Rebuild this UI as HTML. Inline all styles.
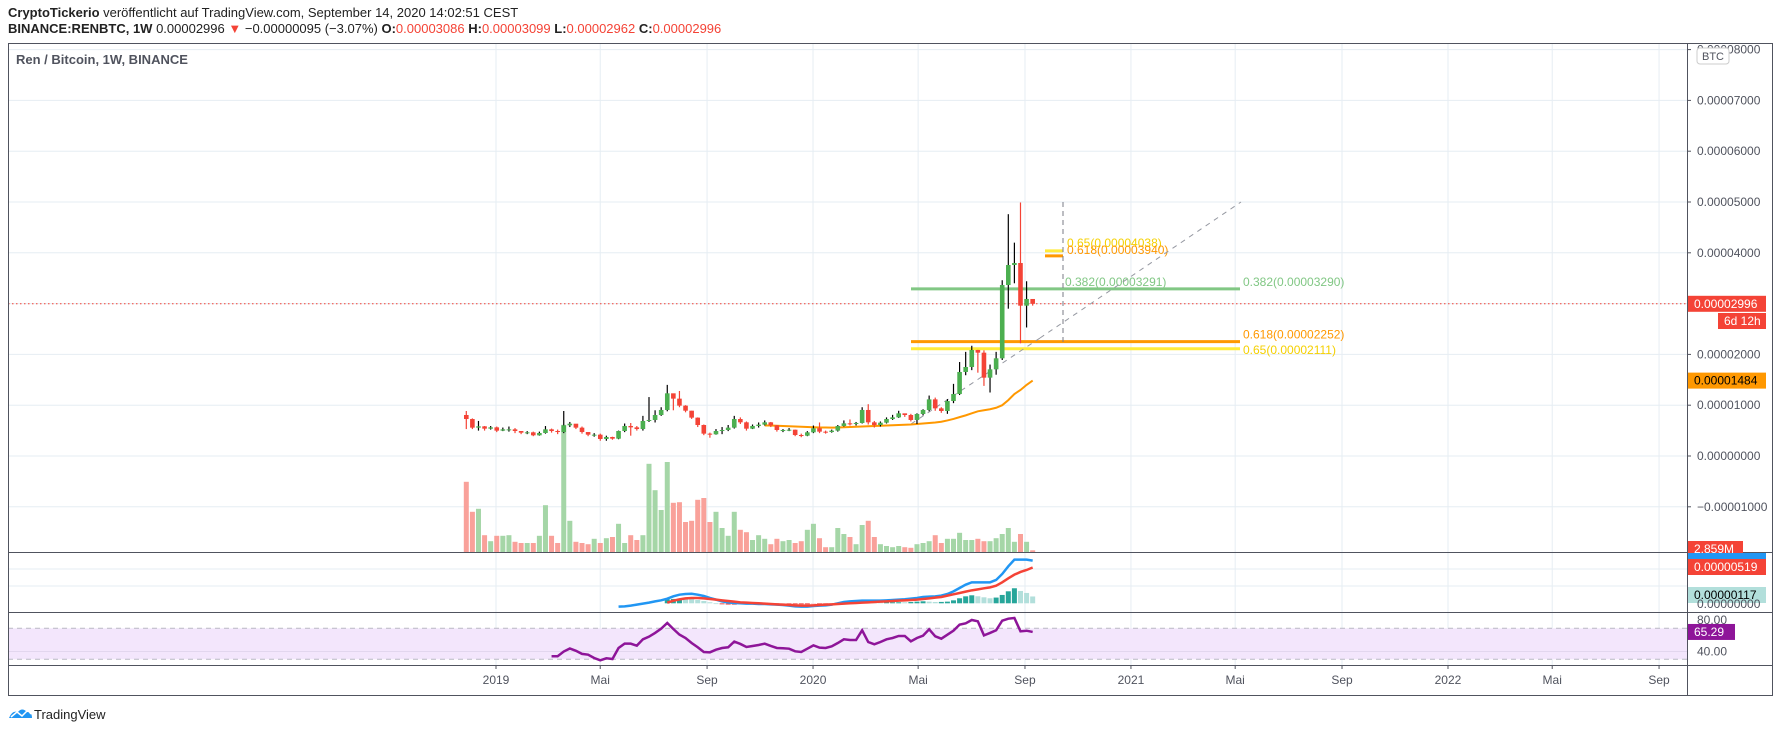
<!DOCTYPE html>
<html><head><meta charset="utf-8"><style>
html,body{margin:0;padding:0;background:#fff;width:1780px;height:731px;overflow:hidden;font-family:"Liberation Sans",sans-serif}
svg{display:block}
</style></head><body>
<svg id="c" width="1780" height="731" xmlns="http://www.w3.org/2000/svg">
<g id="hdr" font-size="13" fill="#222">
<text x="8" y="17"><tspan font-weight="bold">CryptoTickerio</tspan> veröffentlicht auf TradingView.com, September 14, 2020 14:02:51 CEST</text>
<text x="8" y="33"><tspan font-weight="bold">BINANCE:RENBTC, 1W</tspan> 0.00002996 <tspan fill="#f44336">▼</tspan> −0.00000095 (−3.07%) <tspan font-weight="bold">O:</tspan><tspan fill="#f44336">0.00003086</tspan> <tspan font-weight="bold">H:</tspan><tspan fill="#f44336">0.00003099</tspan> <tspan font-weight="bold">L:</tspan><tspan fill="#f44336">0.00002962</tspan> <tspan font-weight="bold">C:</tspan><tspan fill="#f44336">0.00002996</tspan></text>
</g>
<g id="grid"></g>
<g id="plot"></g>
<g id="frame" fill="none" stroke="#50535e" stroke-width="1">
<rect x="8.5" y="43.5" width="1764" height="652"/>
<line x1="1687.5" y1="43" x2="1687.5" y2="696"/>
<line x1="8" y1="552.5" x2="1773" y2="552.5"/>
<line x1="8" y1="612.5" x2="1773" y2="612.5"/>
<line x1="8" y1="665.5" x2="1773" y2="665.5"/>
</g>
<text x="16" y="64" font-size="13" fill="#50535e" font-weight="bold">Ren / Bitcoin, 1W, BINANCE</text>
<g id="axis" font-size="12" fill="#50535e"></g>
<g id="taxis" font-size="12" fill="#50535e"></g>
<g>
<path d="M9 718 q3 -8 9 -6 q4 -5 9 0 q5 0 5 6 z" fill="#2196f3"/>
<polyline points="11,717 17,712 22,716 28,710 31,714" fill="none" stroke="#fff" stroke-width="1.5"/>
<text x="34" y="719" font-size="13" fill="#222">TradingView</text>
</g>
</svg>
<script>
const closes=[7.28,5.58,5.84,5.38,5.64,4.99,5.25,5.25,4.92,4.59,4.66,4.07,4.53,5.25,4.92,4.72,6.04,6.36,5.58,4.72,4.20,4.20,3.35,3.74,3.41,4.92,5.91,5.64,5.31,6.89,7.09,8.07,9.06,12.34,11.29,9.91,8.92,7.55,6.10,4.40,4.27,4.92,5.12,5.58,7.28,6.63,5.38,5.91,6.17,6.63,6.04,5.12,5.12,5.18,4.13,4.00,4.66,5.45,4.79,4.72,4.99,5.91,6.43,6.30,6.50,9.06,6.63,6.10,6.56,7.28,7.61,8.40,8.07,7.09,8.27,9.06,11.15,9.38,8.86,10.83,12.20,16.54,17.52,20.87,20.34,15.42,17.06,19.23,33.66,37.60,37.99,29.59,30.91,29.96];
const firstOpen=8.07;
const highs=[8.86,7.4,6.9,5.9,5.9,5.8,5.6,5.8,5.5,4.9,4.9,4.8,4.8,5.9,5.4,5.2,8.86,6.7,6.3,5.8,4.6,4.5,4.4,4.0,3.8,5.0,6.4,6.5,5.9,7.9,11.6,9.0,9.6,14.0,12.3,12.8,10.0,8.9,7.6,6.2,4.6,5.3,5.7,6.1,7.9,7.6,6.8,6.2,6.6,7.0,6.7,6.1,5.3,5.5,5.2,4.4,4.9,6.0,6.6,5.0,5.2,6.1,7.0,7.2,6.7,9.6,10.2,6.9,6.8,7.6,8.1,8.9,8.3,8.3,8.4,9.2,11.9,11.5,9.6,11.2,14.2,18.5,20.5,21.7,20.9,20.8,18.0,20.5,34.6,47.6,42.0,49.9,34.4,30.2];
const lows=[5.3,5.3,5.0,5.0,5.2,4.7,4.9,4.8,4.5,4.3,4.3,3.9,4.0,4.4,4.6,4.3,4.5,5.7,5.3,4.4,3.9,3.8,3.0,3.0,3.2,3.3,4.7,4.0,5.0,5.0,6.7,6.6,7.9,8.8,9.0,9.6,8.6,7.3,5.7,4.1,3.6,4.2,4.3,4.9,5.4,6.3,5.0,5.3,5.6,6.0,5.7,4.8,4.7,4.9,3.9,3.7,3.9,4.5,4.5,4.4,4.6,4.8,5.8,6.0,6.0,6.4,6.2,5.6,5.8,6.4,7.1,7.5,7.7,6.8,6.3,8.0,8.8,8.9,8.5,8.3,10.4,12.0,15.9,16.9,16.4,13.8,12.5,16.0,18.9,29.0,34.0,22.2,25.3,29.6];
const volumes=[117,67,72,28,18,27,27,28,17,15,15,15,27,78,27,15,212,52,17,15,13,22,15,23,25,47,15,28,20,28,147,103,70,150,82,83,50,52,87,90,50,67,40,27,67,37,33,20,28,22,13,22,18,20,15,18,37,47,23,8,8,40,30,25,13,45,52,25,13,10,8,10,8,7,13,15,18,28,15,22,22,32,20,20,22,18,18,23,30,40,17,30,17,2.86];
const maStart=50;
const maValues=[6.0,6.0,5.95,5.9,5.85,5.8,5.75,5.7,5.65,5.62,5.6,5.58,5.6,5.65,5.7,5.75,5.8,5.85,5.9,5.95,6.0,6.05,6.1,6.15,6.2,6.3,6.4,6.5,6.6,6.75,7.0,7.3,7.65,8.0,8.4,8.8,9.0,9.2,9.5,10.0,11.0,12.2,13.0,14.0,14.84];
const macdStart=26;
const macdValues=[-0.49,-0.44,-0.34,-0.19,-0.05,0.10,0.28,0.43,0.67,1.01,1.25,1.34,1.39,1.25,1.06,0.77,0.53,0.28,0.14,0.04,0.00,-0.05,-0.05,-0.10,-0.10,-0.15,-0.20,-0.25,-0.34,-0.44,-0.49,-0.49,-0.39,-0.34,-0.30,-0.20,0.00,0.19,0.28,0.33,0.38,0.38,0.38,0.38,0.43,0.48,0.53,0.58,0.67,0.77,0.91,0.96,1.01,1.11,1.35,1.73,2.22,2.70,3.04,3.04,3.04,3.04,3.38,4.25,5.36,6.33,6.33,6.33,6.18];
const signalStart=34;
const signalValues=[0.09,0.38,0.57,0.72,0.77,0.77,0.72,0.62,0.53,0.43,0.33,0.24,0.14,0.09,0.04,0.00,-0.05,-0.10,-0.15,-0.20,-0.25,-0.30,-0.34,-0.34,-0.30,-0.25,-0.20,-0.15,-0.10,-0.05,0.00,0.04,0.09,0.14,0.19,0.24,0.28,0.33,0.38,0.43,0.48,0.53,0.62,0.72,0.82,0.91,1.11,1.30,1.49,1.69,1.88,2.02,2.17,2.31,2.55,3.04,3.62,4.15,4.54,4.83,5.19];
const rsiStart=15;
const rsiValues=[34,34,40,44,41,37,36,31.7,28.7,31.3,30.4,44.6,50.2,50.2,47.6,55.8,59.2,64,69.5,76.9,69.1,61.8,57.5,51,45.5,39.4,39,42.4,44.6,45.5,52.8,49.8,45.9,47.2,48.5,50.2,47.2,44.6,44.2,43.7,40.3,39.4,43.7,48,45,44.6,46.7,51,55.8,54.9,54.9,67.4,52.3,49.3,52.3,55.8,57.5,60.1,60.1,53.2,57.5,60.5,68.7,59.7,56.6,61.8,67,74.7,76.4,80.7,79,60.9,64,67.4,79.9,82.4,83.3,66.1,66.9,65.29];
const priceTicks=[80,70,60,50,40,30,20,10,0,-10];
const priceTickLabels=["0.00008000","0.00007000","0.00006000","0.00005000","0.00004000","","0.00002000","0.00001000","0.00000000","−0.00001000"];
const timeTickDays=[0,120,243,365,486,609,731,851,974,1096,1216,1339];
const timeTickLabels=["2019","Mai","Sep","2020","Mai","Sep","2021","Mai","Sep","2022","Mai","Sep"];
const fibLevels=[32.91,22.52,21.11];
const fibLabels=["0.382(0.00003290)","0.618(0.00002252)","0.65(0.00002111)"];
const lastPrice=29.96, maLast=14.84;

const NS="http://www.w3.org/2000/svg";
function mk(parent,tag,attrs,text){const e=document.createElementNS(NS,tag);for(const k in attrs)e.setAttribute(k,attrs[k]);if(text!==undefined)e.textContent=text;document.getElementById(parent).appendChild(e);return e;}
const yP=v=>456-v*5.08;
const xC=i=>466.3+i*6.09;
const xD=d=>496+d*0.8686;
const yV=v=>552-v*0.6;
const yM=v=>603.3-v*6.9;
const yR=v=>628.3-(v-70)*0.775;

priceTicks.forEach(t=>{const l=mk('grid','line',{x1:8,x2:1687,y1:yP(t),y2:yP(t),stroke:'#e6edf3'});

});
timeTickDays.forEach(d=>{const l=mk('grid','line',{x1:xD(d),x2:xD(d),y1:43,y2:665,stroke:'#e6edf3'});

});
[569,586].forEach(y=>{mk('grid','line',{x1:8,x2:1687,y1:y,y2:y,stroke:'#e6edf3'});});
const band=mk('grid','rect',{x:8,y:yR(70),width:1679,height:yR(30)-yR(70),fill:'#f3e6fc'});


[70,30].forEach(v=>{mk('grid','line',{x1:8,x2:1687,y1:yR(v),y2:yR(v),stroke:'#b9b9c4','stroke-dasharray':'5,4'});});
mk('grid','line',{x1:8,x2:1687,y1:yR(40),y2:yR(40),stroke:'#e2d6ee'});

const opens=closes.map((c,i)=>i===0?firstOpen:closes[i-1]);
volumes.forEach((v,i)=>{const up=closes[i]>=opens[i];
const r=mk('plot','rect',{x:xC(i)-2.5,y:yV(v),width:5,height:552-yV(v),fill:up?'#a5d6a7':'#f9a19a'});

});

mk('plot','line',{x1:8,x2:1687,y1:yP(lastPrice),y2:yP(lastPrice),stroke:'#f44336','stroke-dasharray':'1.5,2.5'});

const fibColors=['#81c784','#ff9800','#ffeb3b'];
fibLevels.forEach((v,k)=>{const l=mk('plot','line',{x1:911,x2:1240,y1:yP(v),y2:yP(v),stroke:fibColors[k],'stroke-width':3});


const t=mk('plot','text',{x:1243,y:yP(v)+(k===2?5:-3),'font-size':12,fill:k===2?'#f5d000':fibColors[k]},fibLabels[k]);

});
mk('plot','text',{x:1065,y:yP(fibLevels[0])-3,'font-size':12,fill:'#81c784'},'0.382(0.00003291)');
mk('plot','line',{x1:1045,x2:1063,y1:yP(40.38),y2:yP(40.38),stroke:'#ffeb3b','stroke-width':3});
mk('plot','line',{x1:1045,x2:1063,y1:yP(39.40),y2:yP(39.40),stroke:'#ff9800','stroke-width':3});
mk('plot','text',{x:1067,y:yP(40.38)-4,'font-size':12,fill:'#f5d000'},'0.65(0.00004038)');
mk('plot','text',{x:1067,y:yP(39.40)-2,'font-size':12,fill:'#ff9800'},'0.618(0.00003940)');
const vd=mk('plot','line',{x1:1063,x2:1063,y1:202,y2:342,stroke:'#787b86','stroke-dasharray':'5,4'});


const tl=mk('plot','line',{x1:1040,y1:338,x2:1241,y2:202,stroke:'#9598a1','stroke-dasharray':'5,5'});


mk('plot','line',{x1:911,y1:424,x2:1040,y2:338,stroke:'#9598a1','stroke-dasharray':'5,5'});

const maPts=maValues.map((v,k)=>xC(maStart-1+k)+','+yP(v)).join(' ');
const ma=mk('plot','polyline',{points:maPts,fill:'none',stroke:'#ff9800','stroke-width':2});



closes.forEach((c,i)=>{const o=opens[i],up=c>=o,col=up?'#4caf50':'#f44336';
const w=mk('plot','line',{x1:xC(i),x2:xC(i),y1:yP(highs[i]),y2:yP(lows[i]),stroke:up?'#000':'#f44336','stroke-width':1.2});


const top=yP(Math.max(o,c)),bot=yP(Math.min(o,c));
const b=mk('plot','rect',{x:xC(i)-2.3,y:top,width:4.6,height:Math.max(1,bot-top),fill:col});

});

macdValues.forEach((m,k)=>{const idx=macdStart-1+k,si=idx-(signalStart-1);if(si<0)return;
const h=m-signalValues[si];let prev=null;if(si>0)prev=macdValues[k-1]-signalValues[si-1];
let col;if(h>=0)col=(prev===null||h>=prev)?'#26a69a':'#b2dfdb';else col=(prev===null||h<=prev)?'#ef5350':'#ffcdd2';
const y0=yM(0),y1=yM(h);
const r=mk('plot','rect',{x:xC(idx)-2.5,y:Math.min(y0,y1),width:5,height:Math.max(0.8,Math.abs(y1-y0)),fill:col});

});
const mp=mk('plot','polyline',{points:macdValues.map((v,k)=>xC(macdStart-1+k)+','+yM(v)).join(' '),fill:'none',stroke:'#2196f3','stroke-width':2.5});


const sp=mk('plot','polyline',{points:signalValues.map((v,k)=>xC(signalStart-1+k)+','+yM(v)).join(' '),fill:'none',stroke:'#f44336','stroke-width':2.5});



const rp=mk('plot','polyline',{points:rsiValues.map((v,k)=>xC(rsiStart-1+k)+','+yR(v)).join(' '),fill:'none',stroke:'#8e1599','stroke-width':2.5});



priceTicks.forEach((t,k)=>{mk('axis','line',{x1:1687,x2:1691,y1:yP(t),y2:yP(t),stroke:'#50535e'});
if(priceTickLabels[k]){const tx=mk('axis','text',{x:1697,y:yP(t)+4},priceTickLabels[k]);

}});
function tag(y,w,bg,fg,txt,name,x){x=x||1688;mk('axis','rect',{x:x,y:y-8,width:w,height:16,fill:bg});
const t=mk('axis','text',{x:x+6,y:y+4,fill:fg},txt);

}
mk('axis','rect',{x:1697,y:48,width:32,height:16,rx:3,fill:'#fff',stroke:'#ccc'});
mk('axis','text',{x:1702,y:60,'font-size':11},'BTC');
tag(yP(lastPrice),78,'#f44336','#fff','0.00002996','last-price-label');
tag(321,48,'#f44336','#fff','6d 12h','countdown-label',1718);
tag(yP(maLast),78,'#ff9800','#000','0.00001484','ma-value-label');
tag(549,55,'#f44336','#fff','2.859M','volume-label');
mk('axis','rect',{x:1688,y:553,width:78,height:6,fill:'#2196f3'});
tag(567,78,'#f44336','#fff','0.00000519','signal-value-label');
tag(595,78,'#b2dfdb','#000','0.00000117','histogram-value-label');
mk('axis','text',{x:1697,y:608},'0.00000000');
mk('axis','text',{x:1697,y:624},'80.00');
tag(yR(65.29),47,'#8e1599','#fff','65.29','rsi-value-label');
mk('axis','text',{x:1697,y:yR(40)+4},'40.00');

timeTickDays.forEach((d,k)=>{mk('taxis','line',{x1:xD(d),x2:xD(d),y1:665,y2:669,stroke:'#50535e'});
const t=mk('taxis','text',{x:xD(d),y:684,'text-anchor':'middle'},timeTickLabels[k]);

});
</script>
</body></html>
